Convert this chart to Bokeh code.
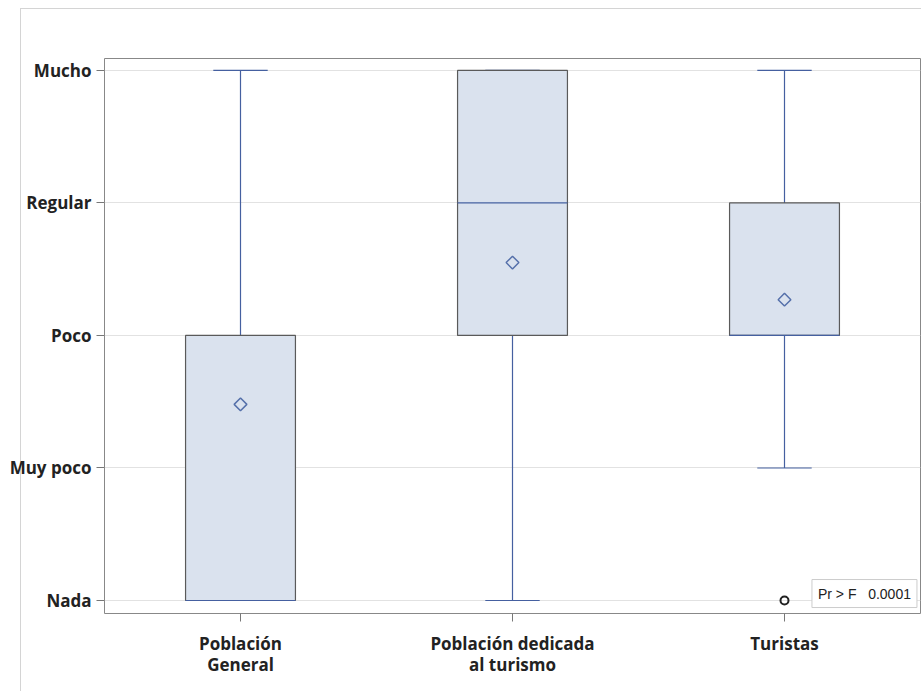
from bokeh.plotting import figure
from bokeh.models import FactorRange, Range1d, FixedTicker, ColumnDataSource, Label
from bokeh.transform import dodge
from bokeh.embed import file_html
from bokeh.resources import INLINE

groups = ["Población\nGeneral", "Población dedicada\nal turismo", "Turistas"]
lower_whisker = [1, 1, 2]
q1 = [1, 3, 3]
median = [1, 4, 3]
q3 = [3, 5, 4]
upper_whisker = [5, 5, 5]
means = [2.48, 3.55, 3.27]
outlier_groups = ["Turistas"]
outlier_values = [1]
level_ticks = [1, 2, 3, 4, 5]
level_labels = ["Nada", "Muy poco", "Poco", "Regular", "Mucho"]

src = ColumnDataSource(dict(g=groups, lw=lower_whisker, q1=q1, med=median, q3=q3,
                            uw=upper_whisker, mean=means))

p = figure(x_range=FactorRange(*groups), y_range=Range1d(0.902, 5.09),
           width=921, height=691, output_backend="svg", toolbar_location=None,
           min_border_left=104, min_border_right=1, min_border_top=58, min_border_bottom=78)
p.border_fill_color = None
p.background_fill_color = "white"
p.styles = {"background": "linear-gradient(#d4d4d4, #d4d4d4) 20px 8px / 1px calc(100% - 8px) no-repeat, "
                          "linear-gradient(#d4d4d4, #d4d4d4) 20px 8px / calc(100% - 20px) 1px no-repeat, white"}

BOX_W = 0.404
CAP_W = 0.2
WHISK = "#4560a0"
BOX_LINE = "#5a5a5a"

# whiskers
p.segment(x0="g", x1="g", y0="q3", y1="uw", source=src, line_color=WHISK, line_width=1.2)
p.segment(x0="g", x1="g", y0="lw", y1="q1", source=src, line_color=WHISK, line_width=1.2)
p.segment(x0=dodge("g", -CAP_W / 2, range=p.x_range), x1=dodge("g", CAP_W / 2, range=p.x_range),
          y0="uw", y1="uw", source=src, line_color=WHISK, line_width=1.2)
p.segment(x0=dodge("g", -CAP_W / 2, range=p.x_range), x1=dodge("g", CAP_W / 2, range=p.x_range),
          y0="lw", y1="lw", source=src, line_color=WHISK, line_width=1.2)
# boxes
p.vbar(x="g", width=BOX_W, bottom="q1", top="q3", source=src,
       fill_color="#dae2ee", line_color=BOX_LINE, line_width=1.2)
# median
p.segment(x0=dodge("g", -BOX_W / 2, range=p.x_range), x1=dodge("g", BOX_W / 2, range=p.x_range),
          y0="med", y1="med", source=src, line_color=WHISK, line_width=1.2)
# mean
p.scatter(x="g", y="mean", source=src, marker="square", size=9, angle=0.785398,
          fill_color=None, line_color="#5570aa", line_width=1.5)
# outliers
p.scatter(x=outlier_groups, y=outlier_values, marker="circle", size=8, fill_color=None,
          line_color="#222222", line_width=2)

p.yaxis.ticker = FixedTicker(ticks=level_ticks)
p.yaxis.major_label_overrides = {t: l for t, l in zip(level_ticks, level_labels)}
p.yaxis.minor_tick_line_color = None
p.yaxis.axis_line_color = None
p.xaxis.axis_line_color = None
for ax in (p.xaxis, p.yaxis):
    ax.major_tick_line_color = "#777777"
    ax.major_tick_out = 8
    ax.major_tick_in = 0
    ax.major_label_text_font = "Open Sans"
    ax.major_label_text_font_style = "bold"
    ax.major_label_text_font_size = "17px"
    ax.major_label_text_color = "#222222"
p.yaxis.major_label_standoff = 5
p.xaxis.major_label_standoff = 10
p.xaxis.major_label_orientation = "horizontal"
p.xaxis.major_label_text_align = "center"
p.xaxis.major_label_text_line_height = 0.95

p.xgrid.grid_line_color = None
p.ygrid.grid_line_color = "#e2e2e2"
p.outline_line_color = "#888888"
p.outline_line_width = 1

lbl = Label(x=2.987, y=0.947, text="Pr > F\u00a0\u00a0\u00a00.0001",
            text_align="right", text_baseline="bottom",
            text_font="Arial", text_font_size="14px", text_color="#222222",
            border_line_color="#cccccc", background_fill_color="white",
            padding=6)
p.add_layout(lbl)

open("out.html", "w").write(file_html(p, INLINE))
